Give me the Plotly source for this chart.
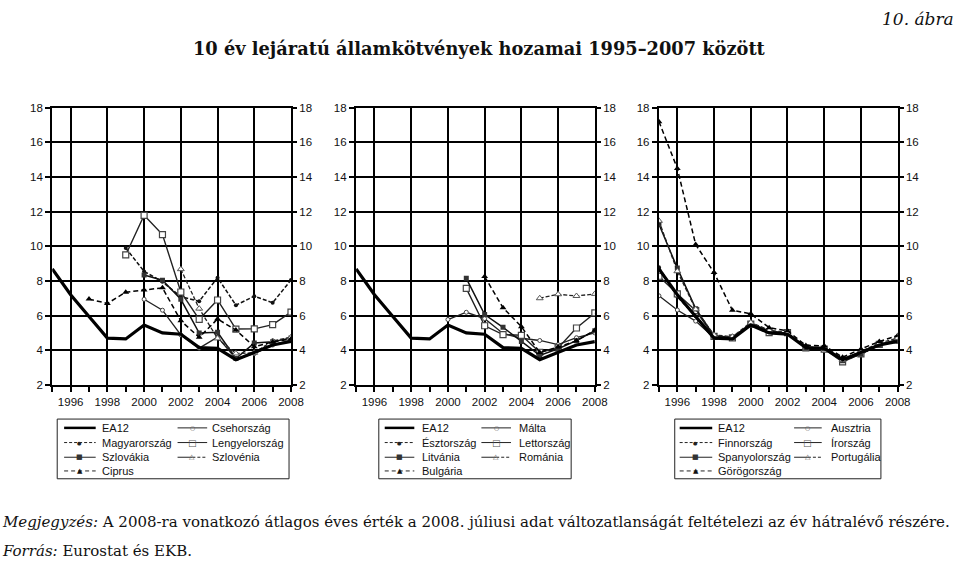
import plotly.graph_objects as go

N = None
years = list(range(1995, 2009))
x_ticks = [1996, 1998, 2000, 2002, 2004, 2006, 2008]
x_minor = [1995, 1997, 1999, 2001, 2003, 2005, 2007]
y_ticks = [2, 4, 6, 8, 10, 12, 14, 16, 18]

ea12 = [8.7, 7.2, 5.95, 4.7, 4.65, 5.45, 5.0, 4.92, 4.15, 4.11, 3.45, 3.88, 4.3, 4.5]

# Panel 1
csehorszag = [N, N, N, N, N, 6.94, 6.31, 4.88, 4.12, 4.75, 3.51, 3.8, 4.3, 4.6]
magyarorszag = [N, N, N, N, 9.9, 8.55, 7.95, 7.09, 6.82, 8.19, 6.6, 7.12, 6.74, 8.05]
lengyelorszag = [N, N, N, N, 9.5, 11.79, 10.68, 7.36, 5.78, 6.9, 5.22, 5.23, 5.48, 6.2]
szlovakia = [N, N, N, N, N, 8.34, 8.04, 6.94, 4.99, 5.03, 3.52, 4.41, 4.49, 4.7]
szlovenia = [N, N, N, N, N, N, N, 8.68, 6.4, 4.68, 3.81, 3.85, 4.53, 4.75]
ciprus = [N, N, 6.95, 6.7, 7.35, 7.47, 7.6, 5.7, 4.74, 5.8, 5.16, 4.2, 4.48, 4.65]

# Panel 2
malta = [N, N, N, N, N, 5.77, 6.19, 5.82, 4.97, 4.69, 4.56, 4.32, 4.72, 5.0]
esztorszag = [N] * 14
lettorszag = [N, N, N, N, N, N, 7.57, 5.41, 4.9, 4.86, 3.88, 4.13, 5.28, 6.15]
litvania = [N, N, N, N, N, N, 8.15, 6.06, 5.32, 4.5, 3.7, 4.08, 4.55, 5.12]
romania = [N, N, N, N, N, N, N, N, N, N, 7.0, 7.23, 7.13, 7.25]
bulgaria = [N, N, N, N, N, N, N, 8.25, 6.45, 5.36, 3.87, 4.18, 4.54, 5.15]

# Panel 3
ausztria = [7.14, 6.32, 5.68, 4.71, 4.68, 5.56, 5.08, 4.97, 4.14, 4.13, 3.39, 3.8, 4.3, 4.5]
finnorszag = [8.79, 7.08, 5.96, 4.79, 4.72, 5.48, 5.04, 4.98, 4.13, 4.11, 3.35, 3.78, 4.29, 4.5]
irorszag = [8.27, 7.25, 6.29, 4.8, 4.71, 5.51, 5.01, 5.01, 4.13, 4.06, 3.32, 3.79, 4.33, 4.6]
spanyolorszag = [11.27, 8.74, 6.4, 4.83, 4.73, 5.53, 5.12, 4.96, 4.12, 4.1, 3.39, 3.78, 4.31, 4.6]
portugalia = [11.47, 8.56, 6.36, 4.88, 4.78, 5.6, 5.16, 5.01, 4.18, 4.14, 3.44, 3.91, 4.42, 4.7]
gorogorszag = [17.2, 14.5, 10.1, 8.48, 6.3, 6.1, 5.3, 5.12, 4.27, 4.26, 3.59, 4.07, 4.5, 4.85]

panels = [
    [("EA12", ea12, "ea"), ("Csehország", csehorszag, "c"), ("Magyarország", magyarorszag, "d"),
     ("Lengyelország", lengyelorszag, "os"), ("Szlovákia", szlovakia, "fs"),
     ("Szlovénia", szlovenia, "ot"), ("Ciprus", ciprus, "ft")],
    [("EA12", ea12, "ea"), ("Málta", malta, "c"), ("Észtország", esztorszag, "d"),
     ("Lettország", lettorszag, "os"), ("Litvánia", litvania, "fs"),
     ("Románia", romania, "ot"), ("Bulgária", bulgaria, "ft")],
    [("EA12", ea12, "ea"), ("Ausztria", ausztria, "c"), ("Finnország", finnorszag, "d"),
     ("Írország", irorszag, "os"), ("Spanyolország", spanyolorszag, "fs"),
     ("Portugália", portugalia, "ot"), ("Görögország", gorogorszag, "ft")],
]

W, H = 960, 567
def px(v): return v / W
def py(v): return 1 - v / H

styles = {
    "ea": dict(mode="lines", line=dict(color="black", width=3.2)),
    "c": dict(mode="lines+markers", line=dict(color="#222", width=1.3),
              marker=dict(symbol="circle", size=4, color="white", line=dict(color="#444", width=1))),
    "d": dict(mode="lines+markers", line=dict(color="#111", width=1.5, dash="4px,2px"),
              marker=dict(symbol="circle", size=4, color="#111")),
    "os": dict(mode="lines+markers", line=dict(color="#222", width=1.4),
               marker=dict(symbol="square", size=6, color="white", line=dict(color="#444", width=1.2))),
    "fs": dict(mode="lines+markers", line=dict(color="#111", width=1.5),
               marker=dict(symbol="square", size=5, color="#333")),
    "ot": dict(mode="lines+markers", line=dict(color="#222", width=1.3, dash="4px,2px"),
               marker=dict(symbol="triangle-up", size=6, color="white", line=dict(color="#555", width=1))),
    "ft": dict(mode="lines+markers", line=dict(color="#000", width=1.5, dash="5px,3px"),
               marker=dict(symbol="triangle-up", size=6, color="#000")),
}

domains = [(53, 295), (361, 603), (668, 910)]
ydom = [py(387), py(104)]
tickfont = dict(family="Liberation Sans", size=11.5, color="#111")

fig = go.Figure()
layout = {}
for i, (x0, x1) in enumerate(domains):
    k = i + 1
    xa = "x" if k == 1 else f"x{k}"
    ya = "y" if k == 1 else f"y{k}"
    rk = k + 3
    layout[f"xaxis{'' if k == 1 else k}"] = dict(
        domain=[px(x0), px(x1)], anchor=ya, range=[1995, 2008],
        tickvals=x_ticks, ticks="outside", ticklen=5, tickwidth=1.6, tickcolor="black",
        minor=dict(tickvals=x_minor, ticks="outside", ticklen=5, tickwidth=1.6, tickcolor="black",
                   showgrid=False),
        showgrid=True, gridcolor="black", gridwidth=2.3,
        showline=True, linecolor="black", linewidth=2.3, mirror=True,
        zeroline=False, tickfont=tickfont, fixedrange=True)
    layout[f"yaxis{'' if k == 1 else k}"] = dict(
        domain=ydom, anchor=xa, range=[2, 18], tickvals=y_ticks,
        ticks="outside", ticklen=5, tickwidth=1.6, tickcolor="black",
        showgrid=True, gridcolor="black", gridwidth=2.3,
        showline=True, linecolor="black", linewidth=2.3, mirror=True,
        zeroline=False, tickfont=tickfont, fixedrange=True)
    layout[f"yaxis{rk}"] = dict(
        overlaying=ya, anchor=xa, side="right", range=[2, 18], tickvals=y_ticks,
        ticks="outside", ticklen=5, tickwidth=1.6, tickcolor="black",
        showgrid=False, showline=False, zeroline=False, tickfont=tickfont, fixedrange=True)
    fig.add_trace(go.Scatter(x=[1995], y=[None], xaxis=xa, yaxis=f"y{rk}",
                             mode="markers", showlegend=False, hoverinfo="skip"))
    series = panels[i]
    for name, vals, st in series[1:] + series[:1]:
        fig.add_trace(go.Scatter(x=years, y=vals, name=name, xaxis=xa, yaxis=ya,
                                 connectgaps=False, showlegend=False, **styles[st]))

# Manual legends
shapes = []
annotations = []
boxes = [(58, 293), (384, 579), (684, 893)]
cols = [
    [(65, 97, 101), (180, 210, 213)],
    [(390, 420, 426), (488, 518, 524)],
    [(689, 722, 726), (805, 833, 840)],
]
rows_y = [431, 446, 461, 475]
glyph = {"c": ("○", 6, "#555"), "d": ("●", 5, "#222"), "os": ("□", 9, "#555"),
         "fs": ("■", 7, "#333"), "ot": ("△", 7, "#666"), "ft": ("▲", 7, "#111")}
legend_font = dict(family="Liberation Sans", size=11, color="#111")
slots = [(0, 0), (1, 0), (0, 1), (1, 1), (0, 2), (1, 2), (0, 3)]
for i, series in enumerate(panels):
    bx0, bx1 = boxes[i]
    shapes.append(dict(type="rect", xref="paper", yref="paper", x0=px(bx0), x1=px(bx1),
                       y0=py(483), y1=py(422), line=dict(color="#222", width=1)))
    for (name, vals, st), (c, r) in zip(series, slots):
        lx0, lx1, tx = cols[i][c]
        yy = py(rows_y[r])
        mid = (lx0 + lx1) / 2
        if st == "ea":
            shapes.append(dict(type="line", xref="paper", yref="paper", x0=px(lx0), x1=px(lx1),
                               y0=yy, y1=yy, line=dict(color="black", width=2.5)))
        elif st in ("c", "os", "fs"):
            shapes.append(dict(type="line", xref="paper", yref="paper", x0=px(lx0), x1=px(lx1),
                               y0=yy, y1=yy, line=dict(color="#222", width=1)))
        elif st == "d":
            shapes.append(dict(type="line", xref="paper", yref="paper", x0=px(lx0), x1=px(lx1),
                               y0=yy, y1=yy, line=dict(color="#222", width=1, dash="3px,2px")))
        elif st == "ot":
            shapes.append(dict(type="line", xref="paper", yref="paper", x0=px(lx0), x1=px(mid),
                               y0=yy, y1=yy, line=dict(color="#222", width=1)))
            shapes.append(dict(type="line", xref="paper", yref="paper", x0=px(mid), x1=px(lx1),
                               y0=yy, y1=yy, line=dict(color="#222", width=1, dash="3px,2px")))
        elif st == "ft":
            shapes.append(dict(type="line", xref="paper", yref="paper", x0=px(lx0), x1=px(lx1),
                               y0=yy, y1=yy, line=dict(color="#222", width=1, dash="4px,3px")))
        if st in glyph:
            g, gs, gc = glyph[st]
            annotations.append(dict(xref="paper", yref="paper", x=px(mid), y=yy, text=g,
                                    showarrow=False, xanchor="center", yanchor="middle",
                                    font=dict(family="DejaVu Sans", size=gs, color=gc)))
        annotations.append(dict(xref="paper", yref="paper", x=px(tx), y=yy, text=name,
                                showarrow=False, xanchor="left", yanchor="middle",
                                font=legend_font))

serif = "DejaVu Serif"
annotations.append(dict(xref="paper", yref="paper", x=px(892), y=py(13), text="<i>10. ábra</i>",
                        showarrow=False, xanchor="left", yanchor="middle",
                        font=dict(family=serif, size=17, color="#111")))
annotations.append(dict(xref="paper", yref="paper", x=px(486), y=py(43),
                        text="<b>10 év lejáratú államkötvények hozamai 1995–2007 között</b>",
                        showarrow=False, xanchor="center", yanchor="middle",
                        font=dict(family=serif, size=17.8, color="#111")))
annotations.append(dict(xref="paper", yref="paper", x=0, y=py(527),
                        text="<i>Megjegyzés:</i> A 2008-ra vonatkozó átlagos éves érték a 2008. júliusi adat változatlanságát feltételezi az év hátralévő részére.",
                        showarrow=False, xanchor="left", yanchor="middle",
                        font=dict(family=serif, size=15, color="#111")))
annotations.append(dict(xref="paper", yref="paper", x=0, y=py(557),
                        text="<i>Forrás:</i> Eurostat és EKB.",
                        showarrow=False, xanchor="left", yanchor="middle",
                        font=dict(family=serif, size=15, color="#111")))

fig.update_layout(**layout)
fig.update_layout(width=W, height=H, margin=dict(l=0, r=0, t=0, b=0),
                  paper_bgcolor="white", plot_bgcolor="white", showlegend=False,
                  shapes=shapes, annotations=annotations)
fig.write_html("out.html")
